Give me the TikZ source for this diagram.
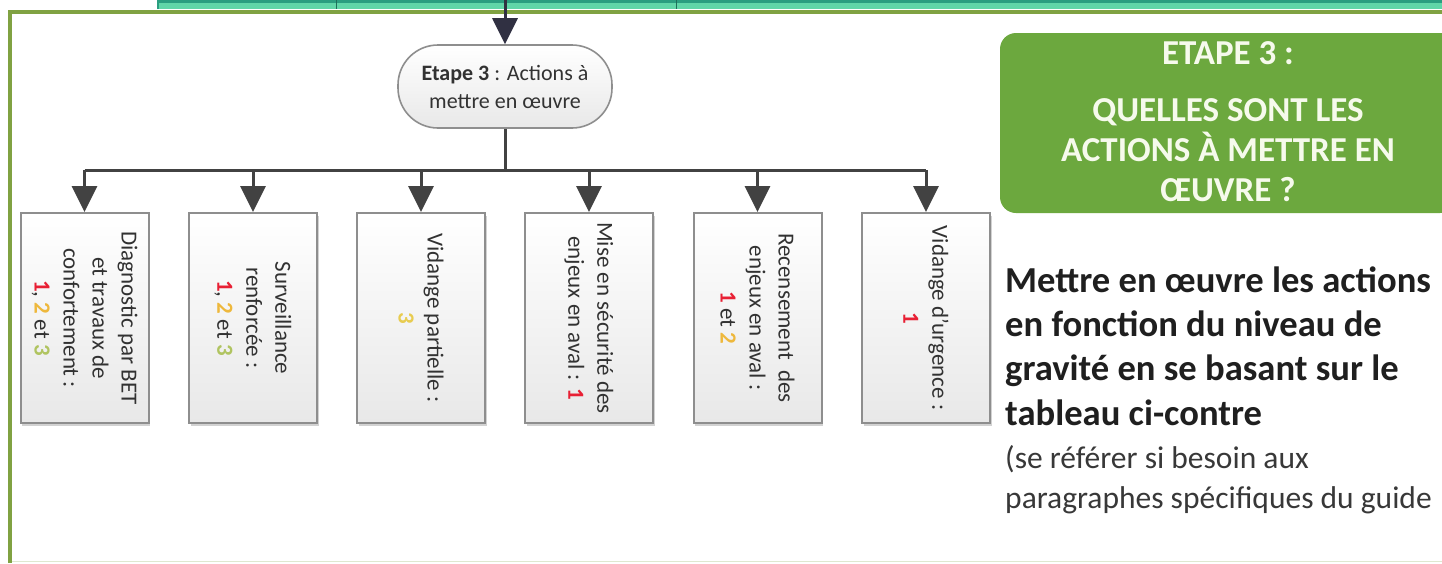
\documentclass[tikz,border=0pt]{standalone}
\usepackage{fontspec}
\setmainfont{Carlito}
\usetikzlibrary{arrows.meta,shadows}

\definecolor{frameolive}{RGB}{128,162,66}
\definecolor{barteal}{RGB}{42,158,128}
\definecolor{barmint}{RGB}{96,214,168}
\definecolor{stepgreen}{RGB}{108,168,62}
\definecolor{bannertext}{RGB}{246,250,236}
\definecolor{linegray}{RGB}{66,66,66}
\definecolor{entrydark}{RGB}{48,48,66}
\definecolor{boxborder}{RGB}{142,142,142}
\definecolor{textgray}{RGB}{50,50,50}
\definecolor{lvlred}{RGB}{232,32,52}
\definecolor{lvlorange}{RGB}{238,184,60}
\definecolor{lvlgreen}{RGB}{176,196,96}
\definecolor{lvlyellow}{RGB}{232,204,80}

\tikzset{
  conn/.style={draw=linegray, line width=3pt},
  arr/.style={conn, -{Triangle[width=25pt,length=26pt]}},
  startnode/.style={draw=boxborder, line width=1.6pt, rounded corners=40pt,
    top color=white, bottom color=black!9, minimum width=214pt,
    minimum height=83pt, inner sep=0pt},
  actbox/.style={draw=boxborder, line width=2pt, top color=white,
    bottom color=black!9, minimum width=128pt, minimum height=210pt,
    inner sep=0pt,
    drop shadow={shadow xshift=1.5pt, shadow yshift=-2.5pt, opacity=0.35}},
  acttext/.style={rotate=-90, align=center, text=textgray,
    font=\fontsize{23}{29}\selectfont, inner sep=0pt},
  banner/.style={fill=stepgreen, rounded corners=16pt, minimum width=456pt,
    minimum height=180pt, inner sep=0pt},
  bannertxt/.style={align=center, text=bannertext,
    font=\fontsize{35}{40}\selectfont\bfseries, inner sep=0pt},
  lead/.style={align=left, anchor=base west, inner sep=0pt, text=black!88,
    font=\fontsize{36.6}{44.3}\selectfont\bfseries},
  note/.style={align=left, anchor=base west, inner sep=0pt, text=black!78,
    font=\fontsize{31.5}{40}\selectfont},
}

\newcommand{\lvl}[2]{\textcolor{#1}{\bfseries #2}}

\begin{document}
\begin{tikzpicture}[x=1pt,y=-1pt]
  \clip (0,0) rectangle (1442,563);
  \fill[white] (0,0) rectangle (1442,563);

  % strip of the previous table above
  \fill[barmint] (157,-4) rectangle (1442,9);
  \draw[barteal, line width=2.5pt] (158,9) -- (158,1.5) -- (1442,1.5);
  \foreach \xx in {336,676}
    \draw[barteal!70!black, line width=0.8pt] (\xx,0) -- (\xx,9);

  % frame of the step
  \draw[frameolive, line width=4pt] (10,563) -- (10,11.5) -- (1442,11.5);
  \draw[frameolive!25, line width=1pt] (12,561.5) -- (1442,561.5);

  % main step node
  \node[startnode, align=center, text=textgray,
        font=\fontsize{22}{28}\selectfont] (etape) at (505,86.5)
    {{\bfseries Etape 3} : Actions à\\mettre en œuvre};
  \coordinate (entry) at (etape.north |- 0,0);
  \draw[arr, draw=entrydark] (entry) -- (etape.north);

  % action boxes
  \node[actbox] (b1) at (84.5,318) {};
  \node[actbox] (b2) at (253,318) {};
  \node[actbox] (b3) at (421,318) {};
  \node[actbox] (b4) at (589,318) {};
  \node[actbox] (b5) at (757.5,318) {};
  \node[actbox] (b6) at (926,318) {};

  \node[acttext] (t1) at (b1.center)
    {Diagnostic par BET\\et travaux de\\confortement :\\
     \lvl{lvlred}{1}, \lvl{lvlorange}{2} et \lvl{lvlgreen}{3}};
  \node[acttext] (t2) at (b2.center)
    {Surveillance\\renforcée :\\
     \lvl{lvlred}{1}, \lvl{lvlorange}{2} et \lvl{lvlgreen}{3}};
  \node[acttext] (t3) at (b3.center)
    {Vidange partielle :\\\lvl{lvlyellow}{3}};
  \node[acttext] (t4) at (b4.center)
    {Mise en sécurité des\\enjeux en aval : \lvl{lvlred}{1}};
  \node[acttext] (t5) at (b5.center)
    {Recensement\ \ des\\enjeux en aval :\\\lvl{lvlred}{1} et \lvl{lvlorange}{2}};
  \node[acttext] (t6) at (b6.center)
    {Vidange d'urgence :\\\lvl{lvlred}{1}};

  % distribution bus
  \coordinate (hub) at (etape.south |- 0,170);
  \draw[conn] (etape.south) -- (hub);
  \draw[conn] (b1.north |- hub) -- (b6.north |- hub);
  \foreach \b in {b1,b2,b3,b4,b5,b6}
    \draw[arr] (\b.north |- hub) -- (\b.north);

  % step banner
  \node[banner] (ban) at (1228,123) {};
  \node[bannertxt] (bantxt) at (1228,121.5)
    {ETAPE 3 :\\[17pt]QUELLES SONT LES\\ACTIONS À METTRE EN\\ŒUVRE ?};

  % explanation (base anchor sits on the last line)
  \node[lead] (lead) at (1005,425)
    {Mettre en œuvre les actions\\en fonction du niveau de\\gravité en se basant sur le\\tableau ci-contre};
  \node[note] (note) at (1005,508)
    {(se référer si besoin aux\\paragraphes spécifiques du guide};
\end{tikzpicture}
\end{document}
